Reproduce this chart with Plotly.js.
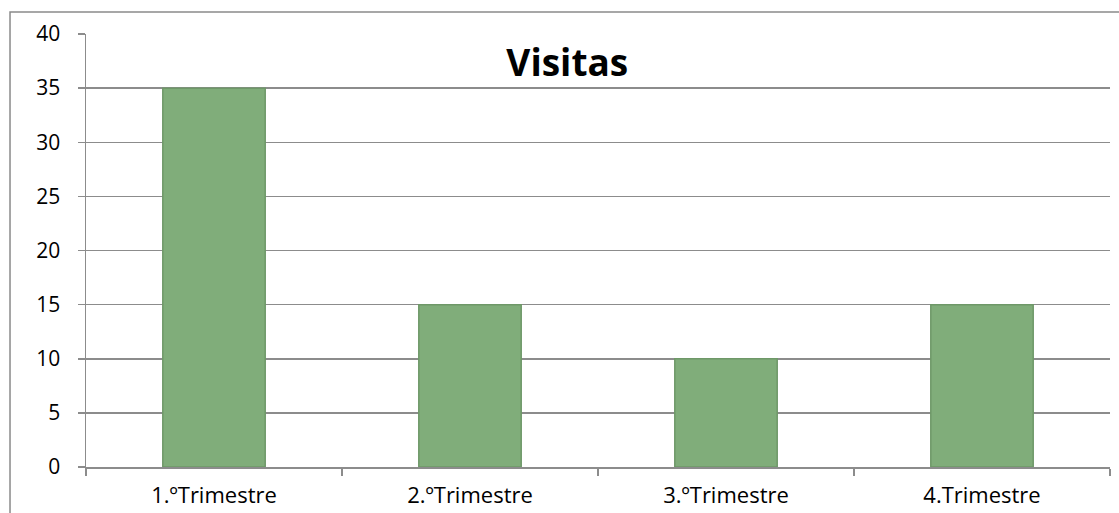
<!DOCTYPE html>
<html><head><meta charset="utf-8">
<script src="https://cdn.plot.ly/plotly-3.0.1.min.js"></script>
<style>html,body{margin:0;padding:0;background:#fff;}#chart{width:1119px;height:513px;}</style>
</head><body><div id="chart"></div>
<script>
const categories = ["1.ºTrimestre", "2.ºTrimestre", "3.ºTrimestre", "4.Trimestre"];
const visitas = [35, 15, 10, 15];
const yTicks = [0, 5, 10, 15, 20, 25, 30, 35, 40];

const trace = {
  type: 'bar', x: categories, y: visitas, width: 0.4,
  marker: {color: '#80ad7a', line: {color: '#6e9868', width: 1.5}},
  hoverinfo: 'x+y'
};
const layout = {
  width: 1119, height: 513,
  margin: {l: 86, r: 9, t: 34, b: 46},
  paper_bgcolor: '#ffffff', plot_bgcolor: '#ffffff',
  showlegend: false,
  font: {family: 'Open Sans, Liberation Sans, sans-serif', color: '#000', size: 21},
  title: {text: '<b>Visitas</b>', x: 0.47, xref: 'paper', xanchor: 'center', y: 0.878, yref: 'container', yanchor: 'middle', font: {size: 37, color: '#000', family: 'Open Sans, sans-serif'}},
  xaxis: {type: 'category', showgrid: false, zeroline: false, showline: true, linecolor: '#8c8c8c', linewidth: 1.5,
    ticks: 'outside', tickson: 'boundaries', ticklen: 7, tickcolor: '#8c8c8c', tickwidth: 1.5, tickfont: {size: 22}, ticklabelstandoff: 8},
  yaxis: {range: [0, 40], tickvals: yTicks, showgrid: true, gridcolor: '#8c8c8c', gridwidth: 1.5, zeroline: false,
    showline: true, linecolor: '#8c8c8c', linewidth: 1.5, ticks: 'outside', ticklen: 7, tickcolor: '#8c8c8c', tickwidth: 1.5,
    tickfont: {size: 21}, ticklabelstandoff: 13},
  shapes: [{type: 'rect', xref: 'paper', yref: 'paper', x0: -0.0742, x1: 1.2, y0: -0.3, y1: 1.0508,
    line: {color: '#8a8a8a', width: 1.5}, fillcolor: 'rgba(0,0,0,0)', layer: 'below'}]
};
Plotly.newPlot('chart', [trace], layout, {displayModeBar: false, staticPlot: true});
</script></body></html>
